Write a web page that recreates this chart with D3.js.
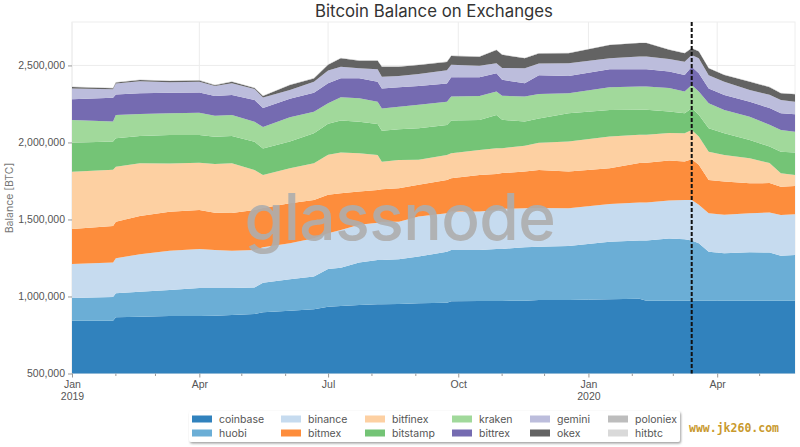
<!DOCTYPE html>
<html>
<head>
<meta charset="utf-8">
<title>Bitcoin Balance on Exchanges</title>
<script src="https://cdn.jsdelivr.net/npm/d3@7"></script>
<style>
  html, body { margin: 0; padding: 0; background: #fff; }
  svg { display: block; font-family: Inter, "Noto Sans", sans-serif; }
</style>
</head>
<body>
<div id="chart"></div>
<script>
// sample dates
const dates = ["2019-01-01","2019-01-30","2019-02-01","2019-02-18","2019-03-11","2019-04-01","2019-04-12","2019-04-24",
  "2019-05-10","2019-05-16","2019-06-04","2019-06-21","2019-07-01","2019-07-10","2019-07-23","2019-08-05","2019-08-08",
  "2019-08-20","2019-09-03","2019-09-23","2019-09-26","2019-10-16","2019-10-28","2019-11-01","2019-11-17","2019-11-27",
  "2019-12-18","2020-01-16","2020-02-06","2020-02-11","2020-02-27","2020-03-09","2020-03-14","2020-03-19","2020-03-26",
  "2020-04-06","2020-04-24","2020-05-08","2020-05-16","2020-05-26"];

// balances per exchange, thousands of BTC
const coinbase = [843,843,865,869,873,873,875,880,886,897,908,917,934,938,945,949,949,951,956,960,969,971,971,971,973,977,977,982,986,973,973,973,973,973,973,973,973,973,973,973];
const huobi = [147,154,156,162,169,182,180,175,173,192,204,212,245,249,275,288,288,290,303,331,333,331,338,338,347,346,351,374,377,390,403,399,390,373,318,308,314,312,292,297];
const binance = [221,223,227,243,255,253,247,242,242,230,234,249,232,245,245,242,249,244,260,249,249,249,253,260,253,251,245,245,247,247,247,255,264,249,249,249,253,260,264,264];
const bitmex = [227,238,238,249,253,253,242,245,260,255,260,249,249,238,216,212,210,217,206,216,217,238,234,232,238,247,238,232,256,258,260,249,264,260,216,216,195,191,184,184];
const bitfinex = [372,364,357,342,314,307,316,323,260,214,227,238,260,264,249,227,179,184,162,162,162,162,167,162,167,177,195,205,184,182,178,184,190,184,184,173,162,130,87,71];
const bitstamp = [188,184,184,177,184,180,177,177,184,173,173,195,201,208,205,201,201,199,206,195,212,195,216,184,158,158,184,173,162,162,140,130,141,141,152,141,119,108,140,145];
const kraken = [147,130,151,143,141,145,136,136,130,140,158,140,134,152,152,145,145,147,151,151,156,156,151,156,162,158,130,147,151,151,152,140,151,151,162,151,151,141,141,136];
const bittrex = [136,154,134,134,134,132,128,130,141,123,119,123,130,123,130,130,130,126,123,119,126,121,119,104,87,123,112,117,113,113,108,108,119,119,97,97,97,108,108,113];
const gemini = [69,56,71,78,68,69,65,76,71,68,58,71,82,75,65,81,75,73,78,86,80,75,65,76,97,76,82,71,82,82,81,86,76,97,86,86,76,86,86,82];
const okex = [10,6,6,8,8,9,6,10,6,10,32,22,37,55,49,56,65,60,58,54,58,58,86,86,65,65,65,86,87,87,60,55,44,43,44,44,54,50,44,48];
const poloniex = [2,2,2,2,2,2,2,2,2,2,2,2,2,2,2,2,2,2,2,2,2,2,2,2,2,2,2,2,2,2,2,2,2,2,2,2,2,2,2,2];
const hitbtc = [1,1,1,1,1,1,1,1,1,1,1,1,1,1,1,1,1,1,1,1,1,1,1,1,1,1,1,1,1,1,1,1,1,1,1,1,1,1,1,1];

const exchanges = ["coinbase","huobi","binance","bitmex","bitfinex","bitstamp","kraken","bittrex","gemini","okex","poloniex","hitbtc"];
const seriesValues = [coinbase,huobi,binance,bitmex,bitfinex,bitstamp,kraken,bittrex,gemini,okex,poloniex,hitbtc];
const colors = ["#3182bd","#6baed6","#c6dbef","#fd8d3c","#fdd0a2","#74c476","#a1d99b","#756bb1","#bcbddc","#636363","#bdbdbd","#d9d9d9"];

const yTicks = [500000,1000000,1500000,2000000,2500000];
const xTicks = ["2019-01-01","2019-04-01","2019-07-01","2019-10-01","2020-01-01","2020-04-01"];
const xMinorTicks = ["2019-02-01","2019-03-01","2019-05-01","2019-06-01","2019-08-01","2019-09-01","2019-11-01","2019-12-01","2020-02-01","2020-03-01","2020-05-01"];
const markerDate = "2020-03-14";

const width = 800, height = 447;
const margin = { top: 22, right: 5, bottom: 73.5, left: 72 };

const parseDate = d3.utcParse("%Y-%m-%d");

// rows for d3.stack
const rows = dates.map((d, i) => {
  const row = { date: parseDate(d) };
  exchanges.forEach((name, j) => { row[name] = seriesValues[j][i] * 1000; });
  return row;
});

const svg = d3.select("#chart").append("svg")
  .attr("width", width)
  .attr("height", height);

const x = d3.scaleUtc()
  .domain([parseDate("2019-01-01"), parseDate("2020-05-26")])
  .range([margin.left, width - margin.right]);

const y = d3.scaleLinear()
  .domain([500000, 2782000])
  .range([height - margin.bottom, margin.top]);

const defs = svg.append("defs");

// y axis starts at 500,000, so the bottom layer has to be cut off there
defs.append("clipPath").attr("id", "plot-clip")
  .append("rect")
  .attr("x", margin.left).attr("y", margin.top)
  .attr("width", width - margin.left - margin.right)
  .attr("height", height - margin.top - margin.bottom);

// ----- grid -----
const grid = svg.append("g").attr("stroke", "#ececec").attr("stroke-width", 1);
xTicks.forEach(d => {
  grid.append("line")
    .attr("x1", x(parseDate(d))).attr("x2", x(parseDate(d)))
    .attr("y1", margin.top).attr("y2", height - margin.bottom);
});
yTicks.forEach(d => {
  grid.append("line")
    .attr("x1", margin.left).attr("x2", width - margin.right)
    .attr("y1", y(d)).attr("y2", y(d));
});
svg.append("rect")
  .attr("x", margin.left).attr("y", margin.top)
  .attr("width", width - margin.left - margin.right)
  .attr("height", height - margin.top - margin.bottom)
  .attr("fill", "none")
  .attr("stroke", "#eeeeee");

// ----- stacked areas -----
const stacked = d3.stack().keys(exchanges)(rows);
const area = d3.area()
  .x(d => x(d.data.date))
  .y0(d => y(d[0]))
  .y1(d => y(d[1]));

svg.append("g")
  .attr("clip-path", "url(#plot-clip)")
  .selectAll("path")
  .data(stacked)
  .enter()
  .append("path")
  .attr("d", area)
  .attr("fill", (d, i) => colors[i]);

// ----- watermark -----
svg.append("text")
  .attr("x", 400)
  .attr("y", 240)
  .attr("text-anchor", "middle")
  .style("font-family", "Inter, sans-serif")
  .style("font-size", "64px")
  .style("font-weight", "500")
  .style("letter-spacing", "-0.5px")
  .style("fill", "#adadad")
  .style("fill-opacity", 0.9)
  .text("glassnode");

// ----- marker line -----
svg.append("line")
  .attr("x1", x(parseDate(markerDate))).attr("x2", x(parseDate(markerDate)))
  .attr("y1", margin.top).attr("y2", height - margin.bottom)
  .attr("stroke", "#111")
  .attr("stroke-width", 2)
  .attr("stroke-dasharray", "4,2");

// ----- axes -----
const yAxis = d3.axisLeft(y)
  .tickValues(yTicks)
  .tickSize(4)
  .tickFormat(d3.format(","));
const yG = svg.append("g")
  .attr("transform", "translate(" + margin.left + ",0)")
  .call(yAxis);
yG.select(".domain").remove();

const xAxis = d3.axisBottom(x)
  .tickValues(xTicks.map(parseDate))
  .tickSize(4)
  .tickFormat(d3.utcFormat("%b"));
const xG = svg.append("g")
  .attr("transform", "translate(0," + (height - margin.bottom) + ")")
  .call(xAxis);
xG.select(".domain").remove();

// year goes on a second line under Jan
xG.selectAll(".tick text")
  .filter(d => d.getUTCMonth() === 0)
  .append("tspan")
  .attr("x", 0)
  .attr("dy", "1.15em")
  .text(d => d.getUTCFullYear());

// unlabeled monthly ticks
svg.append("g").selectAll("line")
  .data(xMinorTicks.map(parseDate))
  .enter()
  .append("line")
  .attr("x1", d => x(d)).attr("x2", d => x(d))
  .attr("y1", height - margin.bottom).attr("y2", height - margin.bottom + 2.5)
  .attr("stroke", "#999");

svg.selectAll(".tick line").attr("stroke", "#999");
svg.selectAll(".tick text")
  .style("font-size", "10.5px")
  .style("fill", "#555");

svg.append("text")
  .attr("transform", "translate(13,198) rotate(-90)")
  .attr("text-anchor", "middle")
  .style("font-size", "10.5px")
  .style("fill", "#777")
  .text("Balance [BTC]");

svg.append("text")
  .attr("x", 434)
  .attr("y", 17)
  .attr("text-anchor", "middle")
  .style("font-size", "16.8px")
  .style("fill", "#333")
  .text("Bitcoin Balance on Exchanges");

// ----- legend -----
const shadow = defs.append("filter").attr("id", "legend-shadow")
  .attr("x", "-5%").attr("y", "-20%").attr("width", "110%").attr("height", "150%");
shadow.append("feDropShadow")
  .attr("dx", 1).attr("dy", 1.5).attr("stdDeviation", 1)
  .attr("flood-color", "#777").attr("flood-opacity", 0.7);

svg.append("rect")
  .attr("x", 189).attr("y", 411)
  .attr("width", 491).attr("height", 31)
  .attr("rx", 2)
  .attr("fill", "#fff")
  .attr("filter", "url(#legend-shadow)");

const legendColumns = [192, 281, 365, 452, 530, 608];
const legendRows = [419, 433];
const legendItems = svg.append("g").selectAll("g")
  .data(exchanges)
  .enter()
  .append("g")
  .attr("transform", (d, i) => "translate(" + legendColumns[Math.floor(i / 2)] + "," + legendRows[i % 2] + ")");

legendItems.append("rect")
  .attr("y", -3.5)
  .attr("width", 20)
  .attr("height", 7)
  .attr("fill", (d, i) => colors[i]);

legendItems.append("text")
  .attr("x", 27)
  .attr("dy", "0.35em")
  .style("font-size", "10.5px")
  .style("fill", "#555")
  .text(d => d);

// site stamp in the corner
svg.append("text")
  .attr("x", 689)
  .attr("y", 432)
  .style("font-family", "'DejaVu Sans Mono', monospace")
  .style("font-size", "11.5px")
  .style("font-weight", "bold")
  .style("fill", "#c99a2e")
  .text("www.jk260.com");
</script>
</body>
</html>
